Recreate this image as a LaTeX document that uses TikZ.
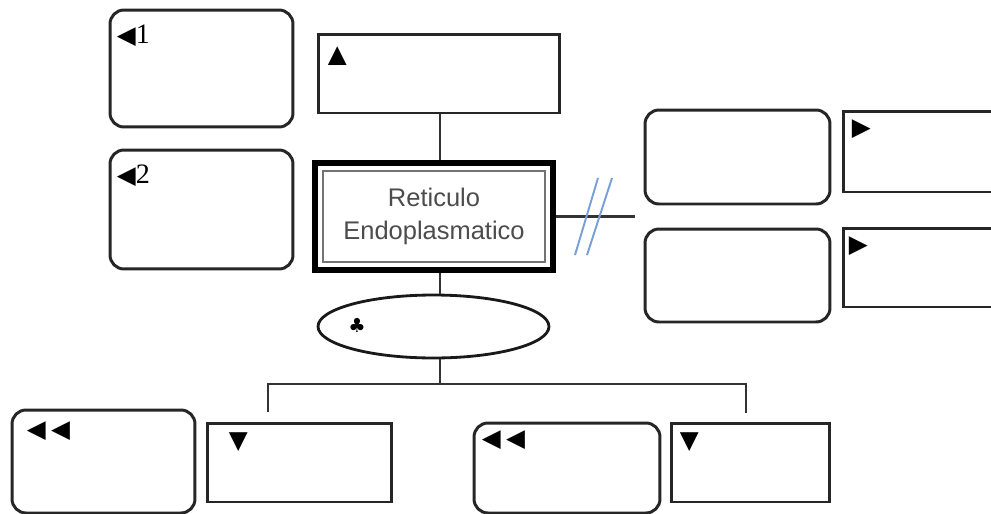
\documentclass[tikz,border=0pt]{standalone}
\usepackage{fontspec}
\setmainfont{Liberation Serif}
\newfontfamily\symfont{DejaVu Sans}
\newfontfamily\boxfont{Liberation Sans}
\usetikzlibrary{positioning,shapes.geometric,calc}
\definecolor{cutblue}{RGB}{120,160,215}

\tikzset{
  roundbox/.style 2 args={draw=black!85, line width=1.7pt, rounded corners=0.28cm,
    minimum width=#1, minimum height=#2, inner sep=0pt},
  sqbox/.style 2 args={draw=black!85, line width=1.7pt,
    minimum width=#1, minimum height=#2, inner sep=0pt},
  tag/.style={inner sep=0pt, font=\symfont\fontsize{14}{14}\selectfont},
  link/.style={draw=black!80, line width=1.2pt},
  cut/.style={draw=cutblue, line width=1.1pt}
}

\begin{document}
\begin{tikzpicture}[x=0.02cm, y=-0.02cm]
\clip (0,0) rectangle (991,514);

% upper left column
\node[roundbox={3.66cm}{2.34cm}] (bubOne) at (201.5,68.5) {};
\node[roundbox={3.66cm}{2.38cm}] (bubTwo) at (201.5,209.5) {};
\node[tag, below right=0.32cm and 0.16cm of bubOne.north west] (tagOne) {◀\rmfamily\fontsize{16}{16}\selectfont 1};
\node[tag, below right=0.32cm and 0.16cm of bubTwo.north west] (tagTwo) {◀\rmfamily\fontsize{16}{16}\selectfont 2};

% box above the centre
\node[sqbox={4.84cm}{1.58cm}] (head) at (439,73.5) {};
\node[tag, below right=0.28cm and 0.22cm of head.north west] (tagHead) {▲};

% centre box, thick frame with a thin inner frame
\node[draw, line width=3.4pt, minimum width=4.76cm, minimum height=2.14cm,
      align=center, text=black!70, font=\boxfont\fontsize{14.5}{19}\selectfont]
      (er) at (434,216.5) {Reticulo\\Endoplasmatico};
\draw[black!55, line width=1pt] ($(er.north west)+(11,11)$) rectangle ($(er.south east)+(-11,-11)$);

% right hand pairs
\node[roundbox={3.70cm}{1.88cm}] (rightA) at (737.5,157) {};
\node[roundbox={3.70cm}{1.86cm}] (rightB) at (737.5,275.5) {};
\node[sqbox={3.40cm}{1.62cm}] (sideA) at (928,151.5) {};
\node[sqbox={3.40cm}{1.58cm}] (sideB) at (928,267.5) {};
\node[tag, below right=0.2cm and 0.2cm of sideA.north west] (tagSideA) {▶};
\node[tag, below right=0.2cm and 0.14cm of sideB.north west] (tagSideB) {▶};

% ellipse under the centre
\node[draw=black!90, line width=1.6pt, ellipse, minimum width=4.62cm, minimum height=1.26cm]
      (ell) at (433.5,326.5) {};
\node[inner sep=0pt, font=\symfont\fontsize{11}{11}\selectfont] (club) at (357,325) {♣};

% bottom row
\node[roundbox={3.66cm}{2.06cm}] (lowA) at (103.5,461.5) {};
\node[sqbox={3.70cm}{1.58cm}] (lowB) at (299.5,462.5) {};
\node[roundbox={3.72cm}{1.80cm}] (lowC) at (567,468) {};
\node[sqbox={3.18cm}{1.58cm}] (lowD) at (750.5,462.5) {};
\node[tag, below right=0.26cm and 0.32cm of lowA.north west] (tagLowA) {◀\hspace{3pt}◀};
\node[tag, below right=0.22cm and 0.46cm of lowB.north west] (tagLowB) {▼};
\node[tag, below right=0.18cm and 0.18cm of lowC.north west] (tagLowC) {◀\hspace{3pt}◀};
\node[tag, below right=0.22cm and 0.2cm of lowD.north west] (tagLowD) {▼};

% connectors
\coordinate (stub) at (635,216.5);
\coordinate (fork) at (440,384);
\coordinate (leftDrop) at (268,412);
\coordinate (rightDrop) at (746,413);

\draw[link] (head.south -| fork) -- (er.north -| fork);
\draw[link] (er.south -| fork) -- (ell.north -| fork);
\draw[link] (er.east) -- (stub);
\draw[link] (ell.south -| fork) -- (fork);
\draw[link] (leftDrop) |- (fork) -| (rightDrop);

% break marks on the right connector
\draw[cut] (612,178) -- (587,255);
\draw[cut] (598,178) -- (575,255);
\end{tikzpicture}
\end{document}
